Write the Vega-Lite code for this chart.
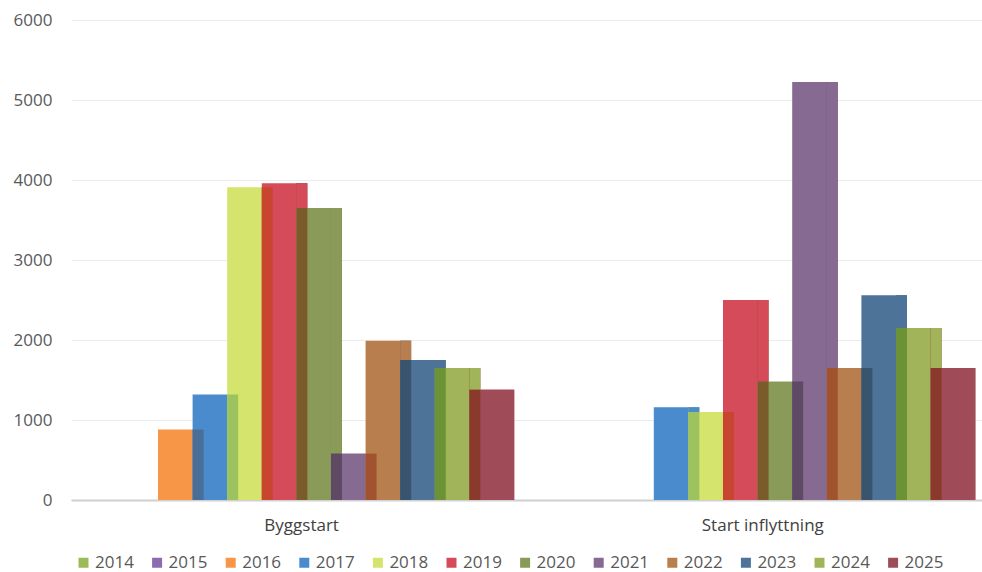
{
  "$schema": "https://vega.github.io/schema/vega-lite/v6.json",
  "width": 911,
  "height": 480,
  "autosize": "none",
  "padding": {"left": 71, "top": 20, "right": 0, "bottom": 72},
  "background": "white",
  "config": {"view": {"stroke": null}, "font": "Open Sans"},
  "data": {"values": [
    {"category": "Byggstart", "year": "2014", "value": 0},
    {"category": "Byggstart", "year": "2015", "value": 0},
    {"category": "Byggstart", "year": "2016", "value": 880},
    {"category": "Byggstart", "year": "2017", "value": 1320},
    {"category": "Byggstart", "year": "2018", "value": 3910},
    {"category": "Byggstart", "year": "2019", "value": 3960},
    {"category": "Byggstart", "year": "2020", "value": 3650},
    {"category": "Byggstart", "year": "2021", "value": 580},
    {"category": "Byggstart", "year": "2022", "value": 1990},
    {"category": "Byggstart", "year": "2023", "value": 1750},
    {"category": "Byggstart", "year": "2024", "value": 1650},
    {"category": "Byggstart", "year": "2025", "value": 1380},
    {"category": "Start inflyttning", "year": "2014", "value": 0},
    {"category": "Start inflyttning", "year": "2015", "value": 0},
    {"category": "Start inflyttning", "year": "2016", "value": 0},
    {"category": "Start inflyttning", "year": "2017", "value": 1160},
    {"category": "Start inflyttning", "year": "2018", "value": 1100},
    {"category": "Start inflyttning", "year": "2019", "value": 2500},
    {"category": "Start inflyttning", "year": "2020", "value": 1480},
    {"category": "Start inflyttning", "year": "2021", "value": 5225},
    {"category": "Start inflyttning", "year": "2022", "value": 1650},
    {"category": "Start inflyttning", "year": "2023", "value": 2560},
    {"category": "Start inflyttning", "year": "2024", "value": 2150},
    {"category": "Start inflyttning", "year": "2025", "value": 1650}
  ]},
  "transform": [
    {"window": [
      {"op": "lag", "field": "value", "as": "prev"},
      {"op": "lag", "field": "year", "as": "prevYear"}
    ], "groupby": ["category"], "sort": [{"field": "year", "order": "ascending"}]}
  ],
  "encoding": {
    "x": {
      "field": "category", "type": "nominal", "sort": ["Byggstart", "Start inflyttning"],
      "scale": {"range": [0, 922.4], "paddingInner": 0, "paddingOuter": 0},
      "axis": {"title": null, "ticks": false, "labelAngle": 0, "labelFontSize": 17, "labelColor": "#404040", "labelPadding": 17, "domainColor": "#d0d0d0", "domainWidth": 2, "grid": false}
    }
  },
  "resolve": {"scale": {"xOffset": "independent"}},
  "layer": [
    {
      "mark": {"type": "bar", "width": 45},
      "encoding": {
        "xOffset": {"field": "year", "type": "nominal", "scale": {"domain": ["2014","2015","2016","2017","2018","2019","2020","2021","2022","2023","2024","2025"], "paddingInner": 0, "paddingOuter": 0.665}},
        "y": {"field": "value", "type": "quantitative", "scale": {"domain": [0, 6000]},
          "axis": {"title": null, "format": "d", "values": [0, 1000, 2000, 3000, 4000, 5000, 6000], "domain": false, "ticks": false, "tickSize": 0, "labelPadding": 19, "labelFontSize": 17, "labelColor": "#595959", "gridColor": "#ececec", "gridWidth": 1}},
        "color": {"field": "year", "type": "nominal",
          "scale": {"domain": ["2014","2015","2016","2017","2018","2019","2020","2021","2022","2023","2024","2025"],
                    "range": ["#9bbb59","#8c6bb1","#f79646","#4a8bcd","#d4e46c","#d54b5a","#8a9a58","#866a92","#b97e4e","#4d7399","#a2b45a","#a04c58"]},
          "legend": {"title": null, "orient": "none", "legendX": 4, "legendY": 534, "direction": "horizontal", "columns": 12, "symbolType": "square", "symbolSize": 100, "symbolStrokeWidth": 0, "labelFontSize": 17, "labelColor": "#595959", "labelOffset": 3, "columnPadding": 14.6, "padding": 0}}
      }
    },
    {
      "transform": [{"filter": "datum.prev > 0"}],
      "mark": {"type": "bar", "width": 11},
      "encoding": {
        "xOffset": {"field": "year", "type": "nominal", "scale": {"domain": ["2014","2015","2016","2017","2018","2019","2020","2021","2022","2023","2024","2025"], "paddingInner": 0, "paddingOuter": 0.665, "align": 0.13}},
        "y": {"field": "prev", "type": "quantitative"},
        "fill": {"field": "year", "type": "nominal",
          "scale": {"domain": ["2014","2015","2016","2017","2018","2019","2020","2021","2022","2023","2024","2025"],
                    "range": ["#7a9a40","#6a5090","#c07030","#4a6e98","#9cc35e","#c8452f","#7a5c2a","#5f4a66","#a0532e","#39546f","#6c9236","#8a3a2c"]},
          "legend": null}
      }
    },
    {
      "transform": [{"filter": "datum.prev > datum.value"}],
      "mark": {"type": "bar", "width": 11},
      "encoding": {
        "xOffset": {"field": "year", "type": "nominal", "scale": {"domain": ["2014","2015","2016","2017","2018","2019","2020","2021","2022","2023","2024","2025"], "paddingInner": 0, "paddingOuter": 0.665, "align": 0.13}},
        "y": {"field": "value", "type": "quantitative"},
        "y2": {"field": "prev"},
        "color": {"field": "prevYear", "type": "nominal"}
      }
    }
  ]
}
